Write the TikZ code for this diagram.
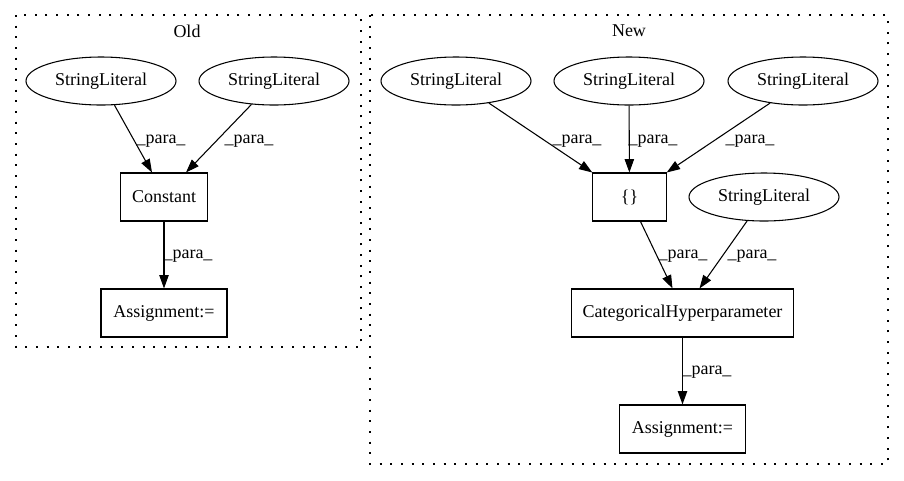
\documentclass[tikz,border=0pt]{standalone}
\usepackage{fontspec}
\setmainfont{Liberation Serif}
\usetikzlibrary{shapes.geometric,arrows.meta}

\begin{document}
\begin{tikzpicture}[x=0.75pt,y=-0.75pt,
        font=\fontsize{13.5pt}{16pt}\selectfont,
        lit/.style={draw,ellipse,line width=0.8pt,inner sep=0pt,minimum width=112.5pt,minimum height=36pt},
        box/.style={draw,rectangle,line width=0.8pt,inner xsep=4pt,minimum height=36pt},
        edge/.style={-{Triangle[length=10pt,width=7pt]},line width=0.8pt},
        lbl/.style={inner sep=0pt},
        cluster/.style={line width=1pt,dash pattern=on 1.5pt off 6.5pt}]
        \useasboundingbox (0,0) rectangle (904,480);

        % the two clusters
        \draw[cluster] (16,15) rectangle (361,347);
        \node (old) at (187,31) {Old};
        \draw[cluster] (370,15) rectangle (888,464);
        \node (new) at (629,31) {New};

        % old side
        \node[lit] (osl1) at (101,81) {StringLiteral};
        \node[lit] (osl2) at (274,81) {StringLiteral};
        \node[box,minimum width=65pt] (oconst) at (164,197) {Constant};
        \node[box,minimum width=94.5pt] (oassign) at (164,313) {Assignment:=};

        \draw[edge] (osl1) -- ([xshift=-9pt]oconst.north);
        \draw[edge] (osl2) -- ([xshift=16.5pt]oconst.north);
        \draw[edge] (oconst) -- (oassign);

        \node[lbl] (olbl1) at (161,141) {\_para\_};
        \node[lbl] (olbl2) at (249,141) {\_para\_};
        \node[lbl] (olbl3) at (188,256) {\_para\_};

        % new side
        \node[lit] (nsl1) at (456,81) {StringLiteral};
        \node[lit] (nsl2) at (629,81) {StringLiteral};
        \node[lit] (nsl3) at (803,81) {StringLiteral};
        \node[box,minimum width=55pt] (nbrace) at (629.5,197) {\{\}};
        \node[lit] (nsl4) at (764,197) {StringLiteral};
        \node[box,minimum width=167pt] (nch) at (682.5,313) {CategoricalHyperparameter};
        \node[box,minimum width=94.5pt] (nassign) at (682.5,429) {Assignment:=};

        \draw[edge] (nsl1) -- (nbrace.north west);
        \draw[edge] (nsl2) -- (nbrace);
        \draw[edge] (nsl3) -- (nbrace.north east);
        \draw[edge] ([xshift=8.25pt]nbrace.south) -- ([xshift=-7.5pt]nch.north);
        \draw[edge] (nsl4) -- ([xshift=12.75pt]nch.north);
        \draw[edge] (nch) -- (nassign);

        \node[lbl] (nlbl1) at (577,141) {\_para\_};
        \node[lbl] (nlbl2) at (653,141) {\_para\_};
        \node[lbl] (nlbl3) at (750,141) {\_para\_};
        \node[lbl] (nlbl4) at (683,256) {\_para\_};
        \node[lbl] (nlbl5) at (752,256) {\_para\_};
        \node[lbl] (nlbl6) at (707,372) {\_para\_};

    \end{tikzpicture}
\end{document}
